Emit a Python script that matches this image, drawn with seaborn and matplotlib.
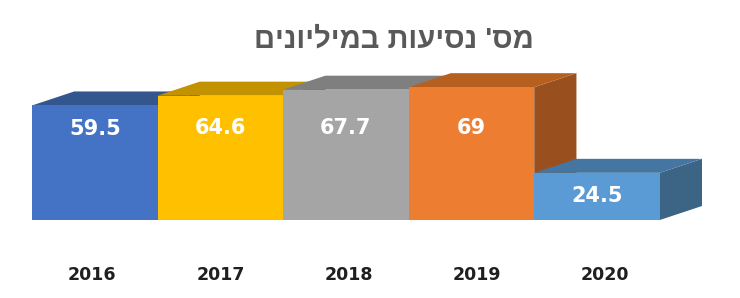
import matplotlib
matplotlib.use("Agg")
import matplotlib.pyplot as plt
from matplotlib.patches import Polygon
import seaborn as sns
import pandas as pd

# ---- data ----
years = ["2016", "2017", "2018", "2019", "2020"]
trips = [59.5, 64.6, 67.7, 69, 24.5]
labels = ["59.5", "64.6", "67.7", "69", "24.5"]
title_text = "מס' נסיעות במיליונים"

front_colors = ["#4472C4", "#FFC000", "#A5A5A5", "#ED7D31", "#5B9BD5"]
top_colors = ["#34568F", "#C29200", "#7F7F7F", "#B5601F", "#4576A1"]
side_colors = ["#2C4A7C", "#A67C00", "#6E6E6E", "#9A4F1E", "#3B6485"]

sns.set_theme(style="white")
plt.rcParams["font.family"] = ["DejaVu Sans", "Liberation Sans"]

W, H = 740, 298
fig = plt.figure(figsize=(W / 100, H / 100), dpi=100)
ax_left, ax_right = 32, 702
ax_bottom = H - 220
ax_top_px = 66
ax = fig.add_axes([ax_left / W, ax_bottom / H, (ax_right - ax_left) / W, (H - ax_bottom - ax_top_px) / H])

df = pd.DataFrame({"year": years, "trips": trips})
sns.barplot(data=df, x="year", y="trips", hue="year", palette=front_colors,
            width=1.0, legend=False, ax=ax, saturation=1.0, linewidth=0)

dx = 42 / 125.0          # depth offset in x data units
ymax = 80
ax.set_ylim(0, ymax)
ax.set_xlim(-0.5, len(years) - 0.5 + dx)
px_per_unit = (H - ax_bottom - ax_top_px) / ymax
dy = 14 / px_per_unit     # depth offset in y data units

for i, bar in enumerate(ax.patches):
    x0 = bar.get_x()
    x1 = x0 + bar.get_width()
    h = bar.get_height()
    bar.set_zorder(3 * i + 3)
    top = Polygon([(x0, h), (x1, h), (x1 + dx, h + dy), (x0 + dx, h + dy)],
                  closed=True, facecolor=top_colors[i], edgecolor="none", zorder=3 * i + 2)
    side = Polygon([(x1, 0), (x1, h), (x1 + dx, h + dy), (x1 + dx, dy)],
                   closed=True, facecolor=side_colors[i], edgecolor="none", zorder=3 * i + 2)
    ax.add_patch(side)
    ax.add_patch(top)
    ly = min(h - 12, 47.7)
    ax.text(x0 + bar.get_width() / 2, ly, labels[i], ha="center", va="center",
            color="white", fontsize=15, fontweight="bold", zorder=3 * i + 4)

# year labels drift slightly right (perspective)
ax.set_xticks([i * 1.021 - 0.02 for i in range(len(years))])
ax.set_xticklabels(years)
ax.set_yticks([])
ax.set_xlabel("")
ax.set_ylabel("")
ax.tick_params(axis="x", length=0, pad=33, labelsize=12.5, labelcolor="#1F1F1F")
for lab in ax.get_xticklabels():
    lab.set_fontweight("bold")
for s in ax.spines.values():
    s.set_visible(False)

# Hebrew (RTL) title: glyphs laid out in visual order
fig.text(394 / W, 1 - 40 / H, title_text[::-1], ha="center", va="center",
         fontsize=21, fontweight="bold", color="#595959",
         family=["Liberation Sans", "DejaVu Sans"])

fig.savefig("out.png", dpi=100)
